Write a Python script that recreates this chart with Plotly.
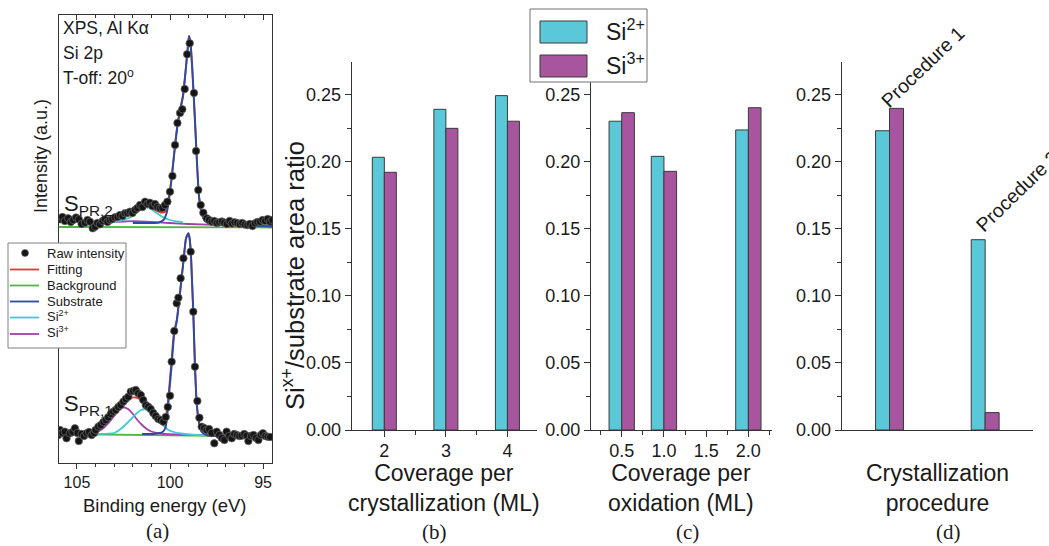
import plotly.graph_objects as go

W, H = 1049, 546
FONT = "Liberation Sans, Arial, Helvetica, sans-serif"
SERIF = "Liberation Serif, Times New Roman, serif"
TXT = "#1a1a1a"
AX = "#333333"


def fx(p):
    return p / W


def fy(p):
    return 1 - p / H


# ---------------- Panel (a): Si 2p spectra (binding energy eV, intensity a.u.) ----------------
# upper spectrum S_PR,2
raw_top_energy = [106.0, 105.91, 105.78, 105.65, 105.47, 105.33, 105.20, 105.05, 104.90, 104.75, 104.57,
                  104.43, 104.30, 104.15, 104.03, 103.90, 103.76, 103.62, 103.49, 103.36, 103.23, 103.10,
                  102.96, 102.82, 102.69, 102.55, 102.42, 102.29, 102.15, 102.02, 101.88, 101.75, 101.61,
                  101.48, 101.34, 101.21, 101.08, 100.95, 100.81, 100.68, 100.54, 100.41, 100.27, 100.14,
                  100.00, 99.87, 99.73, 99.60, 99.46, 99.34, 99.21, 99.08, 98.94, 98.71, 98.60, 98.48,
                  98.35, 98.21, 98.03, 97.90, 97.76, 97.62, 97.49, 97.35, 97.21, 97.08, 96.94, 96.80,
                  96.67, 96.53, 96.39, 96.25, 96.12, 95.98, 95.84, 95.71, 95.57, 95.43, 95.30, 95.16,
                  95.02, 94.89, 94.75, 94.62, 94.50]
raw_top_int = [2.44, 2.437, 2.46, 2.42, 2.447, 2.41, 2.43, 2.455, 2.437, 2.39, 2.403,
               2.43, 2.413, 2.347, 2.363, 2.40, 2.387, 2.42, 2.437, 2.41, 2.43, 2.44,
               2.457, 2.46, 2.48, 2.47, 2.497, 2.50, 2.513, 2.50, 2.53, 2.55, 2.58,
               2.56, 2.613, 2.59, 2.603, 2.57, 2.59, 2.56, 2.547, 2.55, 2.58, 2.613,
               2.713, 2.87, 3.18, 3.40, 3.50, 3.537, 3.74, 4.087, 4.197, 3.70, 3.12, 2.73,
               2.58, 2.503, 2.447, 2.43, 2.413, 2.42, 2.40, 2.407, 2.415, 2.403, 2.39, 2.42,
               2.395, 2.407, 2.40, 2.39, 2.40, 2.385, 2.38, 2.39, 2.37, 2.397, 2.41, 2.413,
               2.43, 2.42, 2.44, 2.413, 2.43]

fit_top_energy = [105.98, 105.0, 104.0, 103.0, 102.5, 102.0, 101.7, 101.4, 101.1, 100.8, 100.5, 100.27,
                  100.15, 100.05, 99.91, 99.73, 99.6, 99.46, 99.3, 99.15, 99.05, 98.98, 98.9, 98.8,
                  98.66, 98.53, 98.44, 98.3, 98.15, 98.0, 97.5, 96.5, 95.5, 94.52]
fit_top_int = [2.415, 2.413, 2.41, 2.43, 2.455, 2.50, 2.54, 2.57, 2.565, 2.53, 2.505, 2.51,
               2.56, 2.67, 2.86, 3.18, 3.38, 3.53, 3.68, 3.95, 4.15, 4.27, 4.2, 3.93,
               3.43, 2.93, 2.663, 2.497, 2.43, 2.41, 2.395, 2.385, 2.375, 2.37]

bg_top_energy = [105.98, 94.52]
bg_top_int = [2.36, 2.355]

sub_top_energy = [102.0, 101.0, 100.6, 100.35, 100.18, 100.05, 99.91, 99.73, 99.6, 99.46, 99.3, 99.15,
                  99.05, 98.98, 98.9, 98.8, 98.66, 98.53, 98.44, 98.3, 98.15, 98.0, 97.5, 96.5, 95.5, 94.52]
sub_top_int = [2.40, 2.40, 2.405, 2.43, 2.50, 2.64, 2.85, 3.17, 3.37, 3.52, 3.67, 3.94,
               4.14, 4.27, 4.2, 3.93, 3.43, 2.93, 2.663, 2.497, 2.43, 2.405, 2.39, 2.38, 2.372, 2.365]

si2_top_energy = [104.0, 103.0, 102.5, 102.0, 101.7, 101.4, 101.1, 100.8, 100.4, 100.0, 99.6, 99.3]
si2_top_int = [2.405, 2.41, 2.43, 2.47, 2.52, 2.555, 2.55, 2.51, 2.46, 2.43, 2.415, 2.405]

si3_top_energy = [105.98, 103.0, 102.0, 101.0, 100.0, 99.0, 97.0, 95.5, 94.52]
si3_top_int = [2.415, 2.412, 2.418, 2.412, 2.40, 2.39, 2.38, 2.373, 2.37]

# lower spectrum S_PR,1
raw_bot_energy = [106.0, 105.91, 105.78, 105.65, 105.56, 105.38, 105.24, 105.11, 104.97, 104.90, 104.75,
                  104.62, 104.48, 104.35, 104.21, 104.08, 104.00, 103.85, 103.72, 103.58, 103.45, 103.32,
                  103.18, 103.05, 102.92, 102.78, 102.65, 102.51, 102.38, 102.24, 102.11, 101.98, 101.84,
                  101.71, 101.57, 101.44, 101.30, 101.17, 101.04, 100.90, 100.77, 100.63, 100.50, 100.36,
                  100.23, 100.12, 100.00, 99.91, 99.77, 99.64, 99.55, 99.43, 99.28, 98.89, 98.75, 98.66,
                  98.53, 98.42, 98.30, 98.17, 98.03, 97.90, 97.76, 97.62, 97.49, 97.35, 97.22, 97.08,
                  96.96, 96.82, 96.68, 96.55, 96.41, 96.28, 96.15, 96.01, 95.88, 95.79, 95.65, 95.52,
                  95.38, 95.25, 95.12, 95.01, 94.88, 94.75, 94.62]
raw_bot_int = [0.28, 0.33, 0.30, 0.313, 0.247, 0.297, 0.31, 0.347, 0.30, 0.22, 0.29,
               0.27, 0.297, 0.31, 0.28, 0.30, 0.33, 0.363, 0.38, 0.41, 0.43, 0.457,
               0.49, 0.513, 0.53, 0.56, 0.58, 0.613, 0.64, 0.663, 0.713, 0.72, 0.73,
               0.697, 0.68, 0.63, 0.58, 0.563, 0.54, 0.50, 0.47, 0.44, 0.43, 0.413,
               0.46, 0.56, 0.673, 1.013, 1.32, 1.597, 1.653, 1.847, 2.047, 2.113, 1.513, 0.963,
               0.62, 0.453, 0.363, 0.35, 0.33, 0.34, 0.30, 0.197, 0.313, 0.28, 0.25, 0.23,
               0.313, 0.27, 0.247, 0.29, 0.28, 0.27, 0.273, 0.29, 0.273, 0.22, 0.27, 0.28,
               0.25, 0.23, 0.28, 0.297, 0.27, 0.263, 0.26]

fit_bot_energy = [105.98, 105.0, 104.39, 103.85, 103.5, 103.13, 102.85, 102.6, 102.3, 101.97, 101.7,
                  101.45, 101.2, 100.95, 100.75, 100.55, 100.4, 100.25, 100.15, 100.05, 99.91, 99.77,
                  99.64, 99.46, 99.28, 99.14, 99.05, 99.01, 98.95, 98.88, 98.83, 98.75, 98.66, 98.57,
                  98.48, 98.39, 98.3, 98.1, 97.9, 97.0, 96.0, 95.0, 94.52]
fit_bot_int = [0.29, 0.29, 0.303, 0.347, 0.40, 0.463, 0.53, 0.58, 0.635, 0.657, 0.645,
               0.61, 0.56, 0.51, 0.47, 0.44, 0.43, 0.45, 0.55, 0.74, 1.05, 1.33,
               1.43, 1.72, 2.02, 2.25, 2.29, 2.297, 2.25, 2.10, 1.88, 1.513, 0.98, 0.613,
               0.447, 0.36, 0.313, 0.29, 0.275, 0.27, 0.268, 0.266, 0.265]

bg_bot_energy = [105.98, 94.52]
bg_bot_int = [0.29, 0.265]

sub_bot_energy = [101.5, 100.8, 100.4, 100.25, 100.15, 100.05, 99.91, 99.77, 99.64, 99.46, 99.28, 99.14,
                  99.05, 99.01, 98.95, 98.88, 98.83, 98.75, 98.66, 98.57, 98.48, 98.39, 98.3, 98.1,
                  97.9, 97.0, 96.0, 95.0, 94.52]
sub_bot_int = [0.29, 0.292, 0.31, 0.35, 0.47, 0.69, 0.98, 1.30, 1.41, 1.70, 2.01, 2.245,
               2.285, 2.297, 2.25, 2.10, 1.88, 1.513, 0.98, 0.613, 0.447, 0.36, 0.313, 0.285,
               0.273, 0.27, 0.268, 0.266, 0.265]

si2_bot_energy = [105.98, 104.0, 103.0, 102.6, 102.3, 102.06, 101.8, 101.55, 101.34, 101.1, 100.85,
                  100.63, 100.35, 100.09, 99.8, 99.4, 99.0, 98.5, 97.5, 96.0, 94.52]
si2_bot_int = [0.29, 0.29, 0.30, 0.347, 0.40, 0.447, 0.495, 0.53, 0.537, 0.52, 0.48,
               0.43, 0.375, 0.33, 0.31, 0.295, 0.285, 0.28, 0.275, 0.27, 0.265]

si3_bot_energy = [105.98, 104.5, 104.0, 103.6, 103.3, 103.0, 102.75, 102.5, 102.25, 102.0, 101.75,
                  101.5, 101.25, 101.0, 100.7, 100.3, 99.5, 98.0, 96.0, 94.52]
si3_bot_int = [0.29, 0.29, 0.305, 0.345, 0.40, 0.47, 0.53, 0.557, 0.54, 0.49, 0.43,
               0.38, 0.34, 0.315, 0.30, 0.29, 0.285, 0.278, 0.27, 0.265]

legend_a_labels = ["Raw intensity", "Fitting", "Background", "Substrate", "Si<sup>2+</sup>", "Si<sup>3+</sup>"]

# ---------------- Panels (b)-(d): Si^x+/substrate area ratio ----------------
coverage_cryst = [2, 3, 4]
cryst_si2 = [0.2035, 0.2393, 0.2495]
cryst_si3 = [0.1923, 0.2251, 0.2304]

coverage_oxid = [0.5, 1.0, 2.0]
oxid_si2 = [0.2304, 0.2042, 0.2239]
oxid_si3 = [0.2368, 0.1930, 0.2405]

procedures = ["Procedure 1", "Procedure 2"]
proc_si2 = [0.2233, 0.142]
proc_si3 = [0.2400, 0.013]

CYAN = "#5BC8DA"
PURPLE = "#A8559F"
EDGE = "#3a3a3a"

C_FIT = "#E8352E"
C_BG = "#52B548"
C_SUB = "#2C4BA3"
C_SI2 = "#42C9D6"
C_SI3 = "#A23FAA"
C_DOT = "#151515"

fig = go.Figure()


def spectrum(raw_e, raw_i, fit_e, fit_i, bg_e, bg_i, sub_e, sub_i, s2_e, s2_i, s3_e, s3_i):
    line_kw = dict(shape="spline", smoothing=0.6, width=1.8)
    fig.add_trace(go.Scatter(x=bg_e, y=bg_i, mode="lines", name="Background",
                             line=dict(color=C_BG, width=1.8)))
    fig.add_trace(go.Scatter(x=s3_e, y=s3_i, mode="lines", name="Si3+",
                             line=dict(color=C_SI3, **line_kw)))
    fig.add_trace(go.Scatter(x=s2_e, y=s2_i, mode="lines", name="Si2+",
                             line=dict(color=C_SI2, **line_kw)))
    fig.add_trace(go.Scatter(x=fit_e, y=fit_i, mode="lines", name="Fitting",
                             line=dict(color=C_FIT, **line_kw)))
    fig.add_trace(go.Scatter(x=sub_e, y=sub_i, mode="lines", name="Substrate",
                             line=dict(color=C_SUB, shape="spline", smoothing=0.6, width=2.0)))
    fig.add_trace(go.Scatter(x=raw_e, y=raw_i, mode="markers", name="Raw intensity",
                             marker=dict(color=C_DOT, size=7.5, line=dict(color="#6a6a6a", width=0.7))))


spectrum(raw_top_energy, raw_top_int, fit_top_energy, fit_top_int, bg_top_energy, bg_top_int,
         sub_top_energy, sub_top_int, si2_top_energy, si2_top_int, si3_top_energy, si3_top_int)
spectrum(raw_bot_energy, raw_bot_int, fit_bot_energy, fit_bot_int, bg_bot_energy, bg_bot_int,
         sub_bot_energy, sub_bot_int, si2_bot_energy, si2_bot_int, si3_bot_energy, si3_bot_int)

# dummy for top mirrored tick axis
fig.add_trace(go.Scatter(x=[100], y=[-1], xaxis="x5", yaxis="y", mode="markers",
                         marker=dict(opacity=0), hoverinfo="skip"))

bar_line = dict(color=EDGE, width=1)
fig.add_trace(go.Bar(x=coverage_cryst, y=cryst_si2, width=0.195, offset=-0.195, name="Si2+",
                     marker=dict(color=CYAN, line=bar_line), xaxis="x2", yaxis="y2"))
fig.add_trace(go.Bar(x=coverage_cryst, y=cryst_si3, width=0.195, offset=0, name="Si3+",
                     marker=dict(color=PURPLE, line=bar_line), xaxis="x2", yaxis="y2"))
fig.add_trace(go.Bar(x=coverage_oxid, y=oxid_si2, width=0.15, offset=-0.15, name="Si2+",
                     marker=dict(color=CYAN, line=bar_line), xaxis="x3", yaxis="y3"))
fig.add_trace(go.Bar(x=coverage_oxid, y=oxid_si3, width=0.15, offset=0, name="Si3+",
                     marker=dict(color=PURPLE, line=bar_line), xaxis="x3", yaxis="y3"))
fig.add_trace(go.Bar(x=procedures, y=proc_si2, width=0.146, offset=-0.146, name="Si2+",
                     marker=dict(color=CYAN, line=bar_line), xaxis="x4", yaxis="y4"))
fig.add_trace(go.Bar(x=procedures, y=proc_si3, width=0.146, offset=0, name="Si3+",
                     marker=dict(color=PURPLE, line=bar_line), xaxis="x4", yaxis="y4"))

tick_common = dict(showgrid=False, zeroline=False, showline=True, linecolor=AX, linewidth=1,
                   tickcolor=AX, tickwidth=1, automargin=False)
ydom = [fy(430), fy(62)]
yrange = [0, 0.2746]


def ybar(anchor):
    return dict(domain=ydom, range=yrange, anchor=anchor, ticks="outside", ticklen=6,
                dtick=0.05, tick0=0, tickformat=".2f",
                minor=dict(ticks="outside", ticklen=4, dtick=0.025, tick0=0, tickcolor=AX),
                tickfont=dict(size=18, color=TXT, family=FONT), **tick_common)


fig.update_layout(
    width=W, height=H, margin=dict(l=0, r=0, t=0, b=0, pad=0),
    paper_bgcolor="white", plot_bgcolor="white",
    font=dict(family=FONT, color=TXT),
    barmode="overlay", showlegend=False,
    xaxis=dict(domain=[fx(58.7), fx(272)], range=[105.98, 94.52], anchor="y", mirror=True,
               ticks="outside", ticklen=5, tickvals=[105, 100, 95],
               minor=dict(ticks="outside", ticklen=3, dtick=1, tick0=0, tickcolor=AX),
               tickfont=dict(size=16, color=TXT, family=FONT), **tick_common),
    xaxis5=dict(overlaying="x", side="top", anchor="y", range=[105.98, 94.52], showline=False,
                ticks="inside", ticklen=5, tickvals=[105, 100, 95], showticklabels=False,
                minor=dict(ticks="inside", ticklen=3, dtick=1, tick0=0, tickcolor=AX),
                tickcolor=AX, showgrid=False, zeroline=False, automargin=False),
    yaxis=dict(domain=[fy(463), fy(15)], range=[0, 4.48], anchor="x", mirror=True,
               showticklabels=False, ticks="", **tick_common),
    xaxis2=dict(domain=[fx(351.7), fx(537)], range=[1.47, 4.48], anchor="y2", ticks="outside",
                ticklen=6, tickvals=coverage_cryst, ticklabelstandoff=-2,
                minor=dict(ticks="outside", ticklen=4, tickvals=[2.5, 3.5], tickcolor=AX),
                tickfont=dict(size=18, color=TXT, family=FONT), **tick_common),
    yaxis2=ybar("x2"),
    xaxis3=dict(domain=[fx(591), fx(772)], range=[0.136, 2.28], anchor="y3", ticks="outside",
                ticklen=6, tickvals=[0.5, 1.0, 1.5, 2.0], ticktext=["0.5", "1.0", "1.5", "2.0"],
                ticklabelstandoff=-2,
                minor=dict(ticks="outside", ticklen=4, dtick=0.25, tick0=0, tickcolor=AX),
                tickfont=dict(size=18, color=TXT, family=FONT), **tick_common),
    yaxis3=ybar("x3"),
    xaxis4=dict(domain=[fx(841.7), fx(1033)], type="category", range=[-0.5, 1.5], anchor="y4",
                ticks="", showticklabels=False, **tick_common),
    yaxis4=ybar("x4"),
)

ann = []


def text(t, x, y, size, xanchor="center", yanchor="middle", angle=0, family=FONT, xref="paper", yref="paper"):
    ann.append(dict(text=t, x=x, y=y, xref=xref, yref=yref, xanchor=xanchor, yanchor=yanchor,
                    textangle=angle, showarrow=False, font=dict(size=size, color=TXT, family=family)))


# panel (a) texts
text("XPS, Al Kα", fx(60.5), fy(28), 17.5, xanchor="left")
text("Si 2p", fx(60.5), fy(53), 17.5, xanchor="left")
text("T-off: 20<sup>o</sup>", fx(60.5), fy(77), 17.5, xanchor="left")
text("S<sub>PR,2</sub>", fx(62), fy(205), 22, xanchor="left")
text("S<sub>PR,1</sub>", fx(62), fy(405), 22, xanchor="left")
text("Intensity (a.u.)", fx(41), fy(156), 18, angle=-90)
text("Binding energy (eV)", fx(165), fy(505), 18.5)
text("(a)", fx(157), fy(531), 21, family=SERIF)

# bar panels texts
text("Si<sup>x+</sup>/substrate area ratio", fx(293), fy(276), 25.5, angle=-90)
text("Coverage per<br>crystallization (ML)", fx(444), fy(488), 23)
text("Coverage per<br>oxidation (ML)", fx(681), fy(488), 23)
text("Crystallization<br>procedure", fx(937), fy(488), 23)
text("(b)", fx(434), fy(532), 21, family=SERIF)
text("(c)", fx(687), fy(532), 21, family=SERIF)
text("(d)", fx(948), fy(532), 21, family=SERIF)
text("Procedure 1", 0.345, 0.2705, 19.5, angle=-44, xref="x4", yref="y4")
text("Procedure 2", 1.335, 0.1785, 19.5, angle=-44, xref="x4", yref="y4")

# legend for bars (b)-(d)
text("Si<sup>2+</sup>", fx(604), fy(30), 23, xanchor="left")
text("Si<sup>3+</sup>", fx(604), fy(64), 23, xanchor="left")

shapes = [
    dict(type="rect", xref="paper", yref="paper", x0=fx(530), x1=fx(647), y0=fy(82), y1=fy(9),
         fillcolor="white", line=dict(color="#707070", width=1)),
    dict(type="rect", xref="paper", yref="paper", x0=fx(540), x1=fx(587), y0=fy(43), y1=fy(21),
         fillcolor=CYAN, line=dict(color=EDGE, width=1)),
    dict(type="rect", xref="paper", yref="paper", x0=fx(540), x1=fx(587), y0=fy(77), y1=fy(55),
         fillcolor=PURPLE, line=dict(color=EDGE, width=1)),
]

# legend for panel (a)
shapes.append(dict(type="rect", xref="paper", yref="paper", x0=fx(8), x1=fx(126), y0=fy(348), y1=fy(243),
                   fillcolor="white", line=dict(color="#808080", width=1)))
row_y = [253, 269.5, 285.5, 301.5, 317.5, 334]
row_colors = [C_DOT, C_FIT, C_BG, C_SUB, C_SI2, C_SI3]
for i, (lab, ry, col) in enumerate(zip(legend_a_labels, row_y, row_colors)):
    if i == 0:
        shapes.append(dict(type="circle", xref="paper", yref="paper", x0=fx(21.5), x1=fx(28.5),
                           y0=fy(ry + 3.5), y1=fy(ry - 3.5), fillcolor=col, line=dict(color="#6a6a6a", width=0.7)))
    else:
        shapes.append(dict(type="line", xref="paper", yref="paper", x0=fx(10), x1=fx(39),
                           y0=fy(ry), y1=fy(ry), line=dict(color=col, width=1.8)))
    text(lab, fx(45), fy(ry - (1.5 if "sup" in lab else 0)), 13, xanchor="left")

fig.update_layout(annotations=ann, shapes=shapes)
fig.write_html("out.html", config={"displayModeBar": False},
               post_script="document.body.style.margin='0px';document.body.style.overflow='hidden';")
